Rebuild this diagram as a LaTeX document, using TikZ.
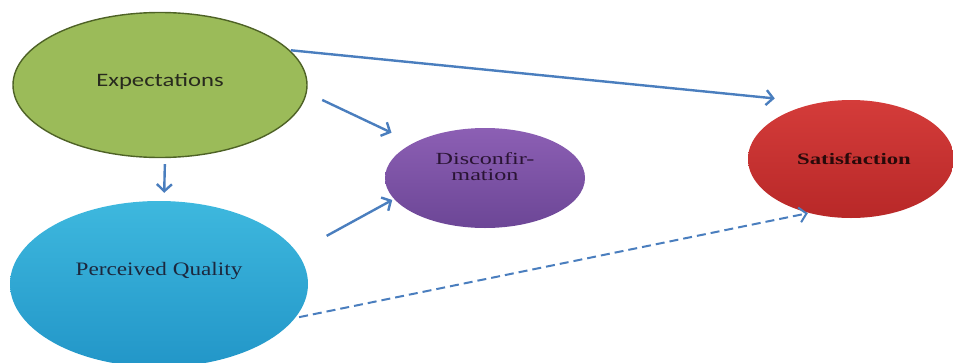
\documentclass[tikz,border=0pt]{standalone}
\usepackage{fontspec}
\usetikzlibrary{shapes.geometric,arrows.meta}

\newfontfamily\expfont{Carlito}[FakeStretch=1.3]
\newfontfamily\lblfont{Liberation Serif}[FakeStretch=1.22]
\newfontfamily\widefont{Liberation Serif}[FakeStretch=1.42]

\definecolor{expgreen}{RGB}{155,187,89}
\definecolor{expedge}{RGB}{78,98,38}
\definecolor{pqtop}{RGB}{62,184,222}
\definecolor{pqbot}{RGB}{34,150,200}
\definecolor{distop}{RGB}{140,95,180}
\definecolor{disbot}{RGB}{108,70,150}
\definecolor{sattop}{RGB}{212,60,58}
\definecolor{satbot}{RGB}{184,40,40}
\definecolor{arrblue}{RGB}{74,126,190}

\tikzset{
  blob/.style={ellipse,inner sep=0pt},
  link/.style={arrblue,line width=2.4pt,-{Straight Barb[length=7pt,width=15pt]}},
}

\begin{document}
\begin{tikzpicture}[x=1pt,y=-1pt]

\useasboundingbox (0,0) rectangle (953,362) ;

\node[blob,fill=expgreen,draw=expedge,line width=1.4pt,
  minimum width=294pt,minimum height=145pt] (exp) at (160,85) {} ;
\node[blob,top color=pqtop,bottom color=pqbot,
  minimum width=298pt,minimum height=166pt] (pq) at (159,284) {} ;
\node[blob,top color=distop,bottom color=disbot,
  minimum width=200pt,minimum height=100pt] (dis) at (485,178) {} ;
\node[blob,top color=sattop,bottom color=satbot,
  minimum width=206pt,minimum height=118pt] (sat) at (851,159) {} ;

\node[font=\expfont\fontsize{19}{22}\selectfont,text={rgb,255:red,40;green,42;blue,30}]
  at ([yshift=4pt]exp.center) {Expectations} ;
\node[font=\lblfont\fontsize{19}{22}\selectfont,text={rgb,255:red,28;green,40;blue,62}]
  at ([yshift=13pt]pq.center) {Perceived Quality} ;
\node[font=\widefont\fontsize{17}{16}\selectfont,text={rgb,255:red,42;green,20;blue,52},align=center]
  at ([yshift=11pt]dis.center) {Disconfir-\\mation} ;
\node[font=\widefont\bfseries\fontsize{16}{18}\selectfont,text={rgb,255:red,40;green,10;blue,10}]
  at ([xshift=3pt]sat.center) {Satisfaction} ;

\draw[link,shorten <=1pt,shorten >=44pt] (exp.15) -- (sat.120) ;
\draw[link,shorten <=17pt,shorten >=24pt] (exp.-3) -- (dis.154) ;
\draw[link,shorten <=6pt,shorten >=8pt] ([xshift=5pt]exp.south) -- ([xshift=5pt]pq.north) ;
\draw[link,shorten <=34pt,shorten >=2pt] (pq.13) -- (dis.193) ;
\draw[link,dashed,dash pattern=on 9pt off 5pt,line width=2pt,shorten <=4pt,shorten >=1pt] (pq.-14) -- (sat.232) ;

\end{tikzpicture}
\end{document}
